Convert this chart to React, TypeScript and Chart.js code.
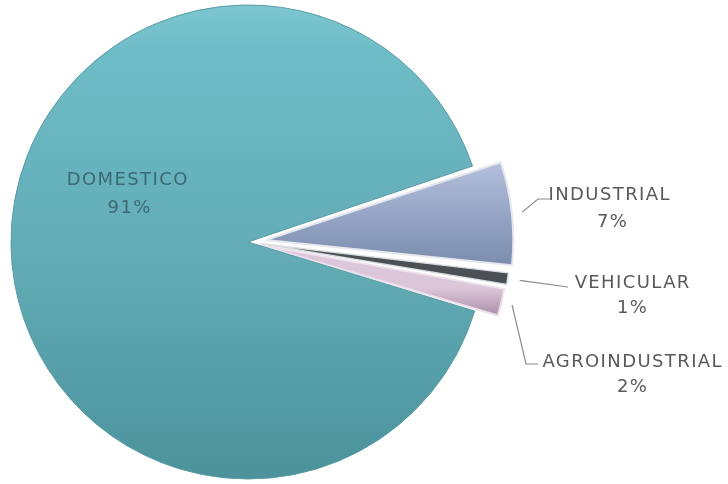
import { useEffect, useRef } from "react";
import { Chart, registerables } from "chart.js";

Chart.register(...registerables);

// ---- data ----
const categories = ["INDUSTRIAL", "VEHICULAR", "AGROINDUSTRIAL", "DOMESTICO"];
const values = [7, 1, 2, 91];
const percentLabels = ["7%", "1%", "2%", "91%"];

// ---- styles / layout ----
const sliceOffsets = [72, 52, 50, 0];
const FONT = '18px "DejaVu Sans", sans-serif';
const labelLayout = [
  { x: 609, y1: 200, x2: 612, y2: 227, color: "#595959", route: [[538, 199], [550, 199]] },
  { x: 632, y1: 288, x2: 632, y2: 313, color: "#595959", route: [[568, 287]] },
  { x: 632, y1: 367, x2: 632, y2: 392, color: "#595959", route: [[526, 364], [538, 364]] },
  { x: 127, y1: 185, x2: 129, y2: 213, color: "#3a6a73", route: null as null | number[][] },
];

function makeFills(ctx: CanvasRenderingContext2D) {
  const dom = ctx.createLinearGradient(0, 5, 0, 480);
  dom.addColorStop(0, "#7cc6d0");
  dom.addColorStop(0.1, "#6ebcc7");
  dom.addColorStop(0.55, "#61abb5");
  dom.addColorStop(1, "#4b929b");
  const ind = ctx.createLinearGradient(0, 165, 0, 275);
  ind.addColorStop(0, "#b2c0dc");
  ind.addColorStop(0.45, "#97a6c6");
  ind.addColorStop(1, "#7888a8");
  const agro = ctx.createLinearGradient(0, 285, 0, 315);
  agro.addColorStop(0, "#dcc6da");
  agro.addColorStop(1, "#a88aa7");
  return [ind, "#4b5055", agro, dom];
}

const labelPlugin = {
  id: "pieLabels",
  afterDatasetsDraw(chart: any) {
    const ctx: CanvasRenderingContext2D = chart.ctx;
    const meta = chart.getDatasetMeta(0);
    ctx.save();
    meta.data.forEach((arc: any, i: number) => {
      const p = arc.getProps(["x", "y", "startAngle", "endAngle", "outerRadius", "circumference"], true);
      const off = (arc.options.offset || 0) / 4;
      const half = (p.startAngle + p.endAngle) / 2;
      const fix = 1 - Math.sin(Math.min(Math.PI, p.circumference || 0));
      const rOff = off * fix;
      const t = off + rOff;
      const cx = p.x + Math.cos(half) * t;
      const cy = p.y + Math.sin(half) * t;
      const R = p.outerRadius + rOff;
      const sx = cx + Math.cos(half) * R;
      const sy = cy + Math.sin(half) * R;
      const L = labelLayout[i];
      if (L.route) {
        ctx.beginPath();
        ctx.strokeStyle = "#8a8a8a";
        ctx.lineWidth = 1.2;
        ctx.moveTo(sx, sy);
        L.route.forEach(([lx, ly]) => ctx.lineTo(lx, ly));
        ctx.stroke();
      }
      ctx.font = FONT;
      (ctx as any).letterSpacing = "1.4px";
      ctx.fillStyle = L.color;
      ctx.textAlign = "center";
      ctx.textBaseline = "alphabetic";
      ctx.fillText(categories[i], L.x + 0.7, L.y1);
      ctx.fillText(percentLabels[i], L.x2 + 0.7, L.y2);
    });
    ctx.restore();
  },
};

export default function App() {
  const ref = useRef<HTMLCanvasElement>(null);
  useEffect(() => {
    document.body.style.margin = "0";
    const canvas = ref.current!;
    const ctx = canvas.getContext("2d")!;
    const fills = makeFills(ctx);
    const chart = new Chart(canvas, {
      type: "pie",
      data: {
        labels: categories,
        datasets: [
          {
            data: values,
            backgroundColor: fills as any,
            borderColor: ["#e4e8ee", "#d9dcdf", "#ece2ec", "#5a9ba4"],
            borderWidth: [2, 1.5, 2, 1],
            offset: sliceOffsets,
          },
        ],
      },
      options: {
        responsive: false,
        animation: false,
        rotation: 71.3,
        radius: 237,
        layout: { padding: { left: 0, top: 0, right: 232, bottom: 0 } },
        plugins: {
          legend: { display: false },
          tooltip: { enabled: false },
        },
      },
      plugins: [labelPlugin],
    });
    return () => chart.destroy();
  }, []);
  return (
    <div style={{ width: 728, height: 484, background: "#fff" }}>
      <canvas ref={ref} width={728} height={484} style={{ display: "block" }} />
    </div>
  );
}
